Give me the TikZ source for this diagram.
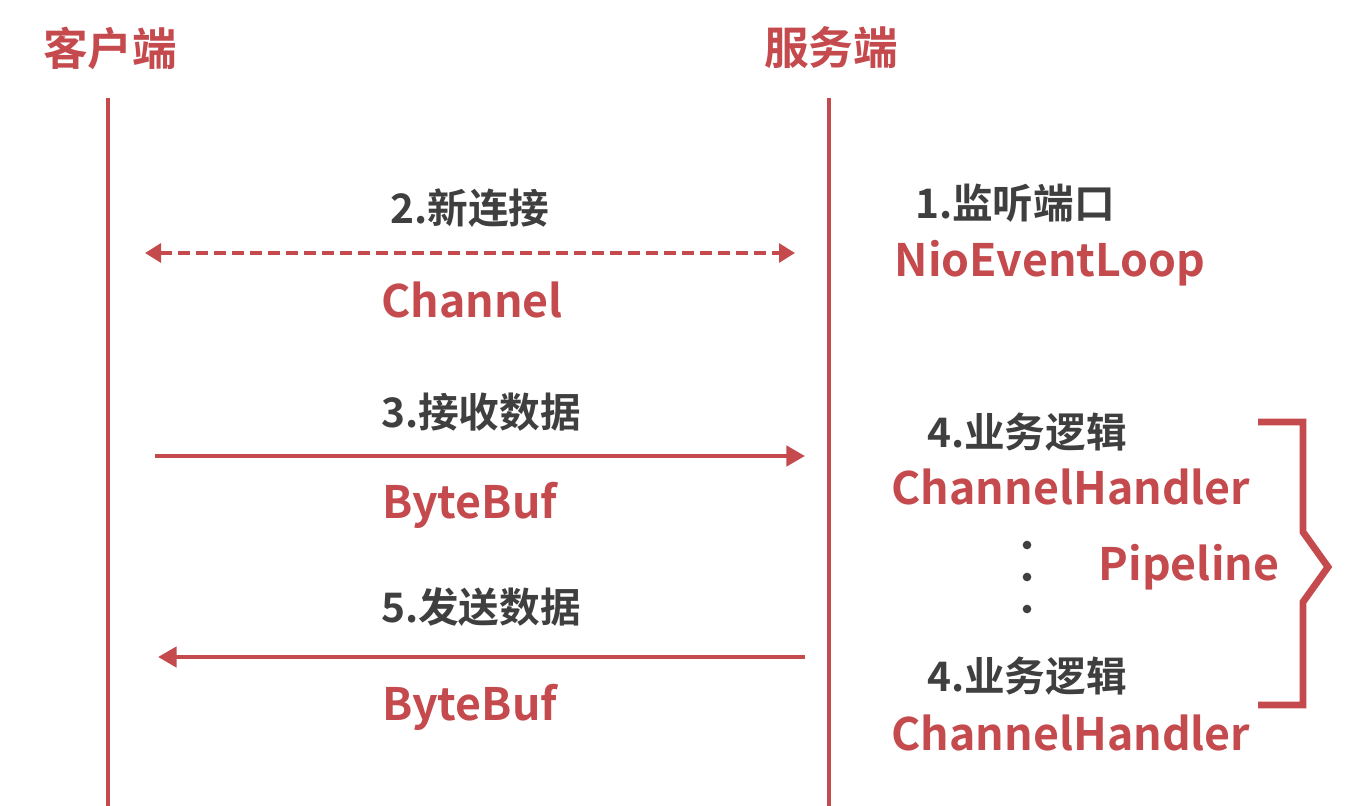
\documentclass[tikz,border=0pt]{standalone}
\usepackage{fontspec}
\setmainfont{Noto Sans CJK SC}[BoldFont={Noto Sans CJK SC Bold}]
\usetikzlibrary{arrows.meta}
\definecolor{myred}{HTML}{C44A4D}
\definecolor{mygray}{HTML}{3F3F3F}
\tikzset{
  title/.style={font=\bfseries\fontsize{33.5}{38}\selectfont, text=myred, inner sep=0pt},
  step lbl/.style={font=\bfseries\fontsize{30.5}{34}\selectfont, text=mygray, inner sep=0pt},
  redlbl/.style={font=\bfseries\fontsize{33.5}{38}\selectfont, text=myred, inner sep=0pt},
  lifeline/.style={draw=myred, line width=2.6pt},
  msg/.style={draw=myred, line width=3.6pt, -{Triangle[length=14pt,width=15pt]}},
  dmsg/.style={draw=myred, line width=3.4pt, dash pattern=on 9pt off 4.5pt, {Triangle[length=12pt,width=14pt]}-{Triangle[length=12pt,width=14pt]}},
  dotn/.style={circle, fill=mygray, inner sep=0pt, minimum size=6.5pt},
}
\begin{document}
\begin{tikzpicture}[x=0.75pt,y=-0.75pt]
\useasboundingbox (0,0) rectangle (1360,806);
\fill[white] (0,0) rectangle (1360,806);
% titles
\node[title] (client) at (110,48) {客户端};
\node[title] (server) at (831,48) {服务端};
% lifelines
\coordinate (ctop) at (108,98);
\coordinate (cbot) at (108,806);
\coordinate (stop) at (829,98);
\coordinate (sbot) at (829,806);
\draw[lifeline] (ctop) -- (cbot);
\draw[lifeline] (stop) -- (sbot);
% step 1
\node[step lbl] (s1) at (1015,203) {1.监听端口};
\node[redlbl] (nel) at (1050,263) {NioEventLoop};
% step 2
\node[step lbl] (s2) at (470,208) {2.新连接};
\coordinate (a2l) at (145,253);
\coordinate (a2r) at (795,253);
\draw[dmsg] (a2l) -- (a2r);
\node[redlbl] (ch) at (472,300) {Channel};
% step 3
\node[step lbl] (s3) at (481,412) {3.接收数据};
\coordinate (a3l) at (155,456);
\coordinate (a3r) at (805,456);
\draw[msg] (a3l) -- (a3r);
\node[redlbl] (bb1) at (470,505) {ByteBuf};
% step 5
\node[step lbl] (s5) at (481,607) {5.发送数据};
\coordinate (a5l) at (158,657);
\coordinate (a5r) at (805,657);
\draw[msg] (a5r) -- (a5l);
\node[redlbl] (bb2) at (470,707) {ByteBuf};
% step 4
\node[step lbl] (s4a) at (1027,432) {4.业务逻辑};
\node[redlbl] (ch1) at (1071,487) {ChannelHandler};
\node[dotn] (d1) at (1027,545) {};
\node[dotn] (d2) at (1027,577) {};
\node[dotn] (d3) at (1027,609) {};
\node[step lbl] (s4b) at (1027,676) {4.业务逻辑};
\node[redlbl] (ch2) at (1071,733) {ChannelHandler};
\node[redlbl] (pl) at (1189,567) {Pipeline};
% bracket
\draw[myred, line width=5.2pt, line join=miter] (1258,422) -- (1303,422) -- (1303,532) -- (1328,567) -- (1303,602) -- (1303,705) -- (1258,705);
\end{tikzpicture}
\end{document}
